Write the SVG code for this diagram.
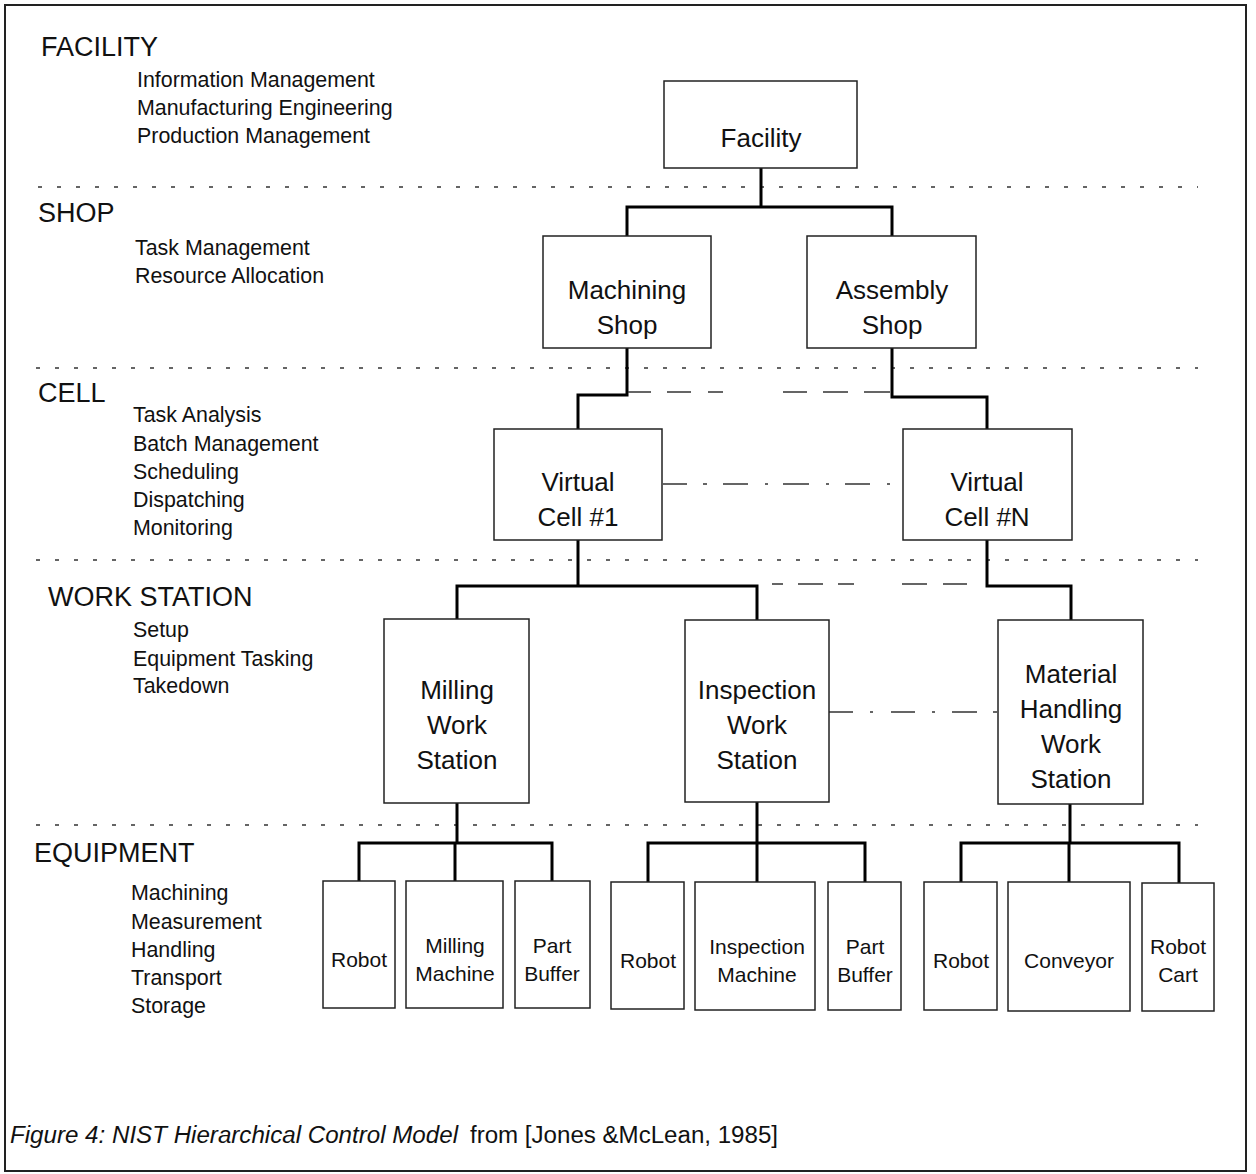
<svg xmlns="http://www.w3.org/2000/svg" width="1256" height="1174" viewBox="0 0 1256 1174">
  <style>
    text { font-family: "Liberation Sans", Arial, Helvetica, sans-serif; fill: #111; }
    .lvl { font-size: 27px; }
    .fn { font-size: 21.4px; }
    .nd { font-size: 26px; text-anchor: middle; }
    .eq { font-size: 21px; text-anchor: middle; }
    .box { fill: #fff; stroke: #222; stroke-width: 1.5; }
    .tree { fill: none; stroke: #000; stroke-width: 3; }
    .sep { stroke: #333; stroke-width: 1.6; stroke-dasharray: 4 15; }
    .link { fill: none; stroke: #333; stroke-width: 1.6; }
    .cap { font-size: 23px; }
  </style>

  <rect x="0" y="0" width="1256" height="1174" fill="#fff"/>
  <!-- frame -->
  <rect x="5" y="5" width="1241" height="1166" fill="none" stroke="#222" stroke-width="2"/>

  <!-- level separators -->
  <g id="separators">
    <line class="sep" x1="38" y1="187" x2="1198" y2="187"/>
    <line class="sep" x1="36" y1="368" x2="1198" y2="368"/>
    <line class="sep" x1="36" y1="560" x2="1198" y2="560"/>
    <line class="sep" x1="36" y1="825" x2="1198" y2="825"/>
  </g>

  <!-- level labels and functions -->
  <g id="level-facility">
    <text class="lvl" x="41" y="56">FACILITY</text>
    <text class="fn" x="137" y="87">Information Management</text>
    <text class="fn" x="137" y="115">Manufacturing Engineering</text>
    <text class="fn" x="137" y="143">Production Management</text>
  </g>
  <g id="level-shop">
    <text class="lvl" x="38" y="222">SHOP</text>
    <text class="fn" x="135" y="255">Task Management</text>
    <text class="fn" x="135" y="283">Resource Allocation</text>
  </g>
  <g id="level-cell">
    <text class="lvl" x="38" y="402">CELL</text>
    <text class="fn" x="133" y="422">Task Analysis</text>
    <text class="fn" x="133" y="451">Batch Management</text>
    <text class="fn" x="133" y="479">Scheduling</text>
    <text class="fn" x="133" y="507">Dispatching</text>
    <text class="fn" x="133" y="535">Monitoring</text>
  </g>
  <g id="level-workstation">
    <text class="lvl" x="48" y="606">WORK STATION</text>
    <text class="fn" x="133" y="637">Setup</text>
    <text class="fn" x="133" y="666">Equipment Tasking</text>
    <text class="fn" x="133" y="693">Takedown</text>
  </g>
  <g id="level-equipment">
    <text class="lvl" x="34" y="862">EQUIPMENT</text>
    <text class="fn" x="131" y="900">Machining</text>
    <text class="fn" x="131" y="929">Measurement</text>
    <text class="fn" x="131" y="957">Handling</text>
    <text class="fn" x="131" y="985">Transport</text>
    <text class="fn" x="131" y="1013">Storage</text>
  </g>

  <!-- connectors -->
  <g id="connectors">
    <path class="tree" d="M761 168 V207 M627 236 V207 H892 V236"/>
    <path class="tree" d="M627 348 V395 H578 V429"/>
    <path class="tree" d="M892 348 V397 H987 V429"/>
    <path class="tree" d="M578 540 V586 M457 620 V586 H757 V620"/>
    <path class="tree" d="M987 540 V586 H1071 V620"/>
    <path class="tree" d="M457 803 V843 M359 881 V843 H552 V881 M455 843 V881"/>
    <path class="tree" d="M757 802 V843 M648 882 V843 H865 V882 M757 843 V882"/>
    <path class="tree" d="M1070 804 V843 M961 882 V843 H1179 V883 M1069 843 V882"/>
    <!-- peer links: shop to shop -->
    <path class="link" d="M628 392 H651 M667 392 H691 M708 392 H723 M783 392 H807 M823 392 H848 M864 392 H890"/>
    <!-- peer links: cell to cell -->
    <path class="link" d="M663 484 H687 M703 484 H707 M723 484 H748 M765 484 H768 M783 484 H809 M826 484 H829 M845 484 H870 M887 484 H890"/>
    <!-- peer links: shared work stations -->
    <path class="link" d="M772 584 H783 M798 584 H823 M838 584 H854 M902 584 H927 M943 584 H967"/>
    <path class="link" d="M829 712 H853 M870 712 H873 M891 712 H915 M932 712 H935 M952 712 H977 M993 712 H997"/>
  </g>

  <!-- facility -->
  <g id="node-facility">
    <rect class="box" x="664" y="81" width="193" height="87"/>
    <text class="nd" x="761" y="147">Facility</text>
  </g>

  <!-- shops -->
  <g id="node-machining-shop">
    <rect class="box" x="543" y="236" width="168" height="112"/>
    <text class="nd" x="627" y="299">Machining</text>
    <text class="nd" x="627" y="334">Shop</text>
  </g>
  <g id="node-assembly-shop">
    <rect class="box" x="807" y="236" width="169" height="112"/>
    <text class="nd" x="892" y="299">Assembly</text>
    <text class="nd" x="892" y="334">Shop</text>
  </g>

  <!-- cells -->
  <g id="node-virtual-cell-1">
    <rect class="box" x="494" y="429" width="168" height="111"/>
    <text class="nd" x="578" y="491">Virtual</text>
    <text class="nd" x="578" y="526">Cell #1</text>
  </g>
  <g id="node-virtual-cell-n">
    <rect class="box" x="903" y="429" width="169" height="111"/>
    <text class="nd" x="987" y="491">Virtual</text>
    <text class="nd" x="987" y="526">Cell #N</text>
  </g>

  <!-- work stations -->
  <g id="node-milling-ws">
    <rect class="box" x="384" y="619" width="145" height="184"/>
    <text class="nd" x="457" y="699">Milling</text>
    <text class="nd" x="457" y="734">Work</text>
    <text class="nd" x="457" y="769">Station</text>
  </g>
  <g id="node-inspection-ws">
    <rect class="box" x="685" y="620" width="144" height="182"/>
    <text class="nd" x="757" y="699">Inspection</text>
    <text class="nd" x="757" y="734">Work</text>
    <text class="nd" x="757" y="769">Station</text>
  </g>
  <g id="node-material-handling-ws">
    <rect class="box" x="998" y="620" width="145" height="184"/>
    <text class="nd" x="1071" y="683">Material</text>
    <text class="nd" x="1071" y="718">Handling</text>
    <text class="nd" x="1071" y="753">Work</text>
    <text class="nd" x="1071" y="788">Station</text>
  </g>

  <!-- equipment: milling station -->
  <g id="node-robot-1">
    <rect class="box" x="323" y="881" width="72" height="127"/>
    <text class="eq" x="359" y="967">Robot</text>
  </g>
  <g id="node-milling-machine">
    <rect class="box" x="406" y="881" width="97" height="127"/>
    <text class="eq" x="455" y="953">Milling</text>
    <text class="eq" x="455" y="981">Machine</text>
  </g>
  <g id="node-part-buffer-1">
    <rect class="box" x="515" y="881" width="75" height="127"/>
    <text class="eq" x="552" y="953">Part</text>
    <text class="eq" x="552" y="981">Buffer</text>
  </g>

  <!-- equipment: inspection station -->
  <g id="node-robot-2">
    <rect class="box" x="611" y="882" width="73" height="127"/>
    <text class="eq" x="648" y="968">Robot</text>
  </g>
  <g id="node-inspection-machine">
    <rect class="box" x="695" y="882" width="120" height="128"/>
    <text class="eq" x="757" y="954">Inspection</text>
    <text class="eq" x="757" y="982">Machine</text>
  </g>
  <g id="node-part-buffer-2">
    <rect class="box" x="828" y="882" width="73" height="128"/>
    <text class="eq" x="865" y="954">Part</text>
    <text class="eq" x="865" y="982">Buffer</text>
  </g>

  <!-- equipment: material handling station -->
  <g id="node-robot-3">
    <rect class="box" x="924" y="882" width="73" height="128"/>
    <text class="eq" x="961" y="968">Robot</text>
  </g>
  <g id="node-conveyor">
    <rect class="box" x="1008" y="882" width="122" height="129"/>
    <text class="eq" x="1069" y="968">Conveyor</text>
  </g>
  <g id="node-robot-cart">
    <rect class="box" x="1142" y="883" width="72" height="128"/>
    <text class="eq" x="1178" y="954">Robot</text>
    <text class="eq" x="1178" y="982">Cart</text>
  </g>

  <!-- caption -->
  <g id="caption">
    <text class="cap" x="10" y="1143" font-style="italic" textLength="448" lengthAdjust="spacingAndGlyphs">Figure 4: NIST Hierarchical Control Model</text>
    <text class="cap" x="470" y="1143" textLength="308" lengthAdjust="spacingAndGlyphs">from [Jones &amp;McLean, 1985]</text>
  </g>
</svg>
